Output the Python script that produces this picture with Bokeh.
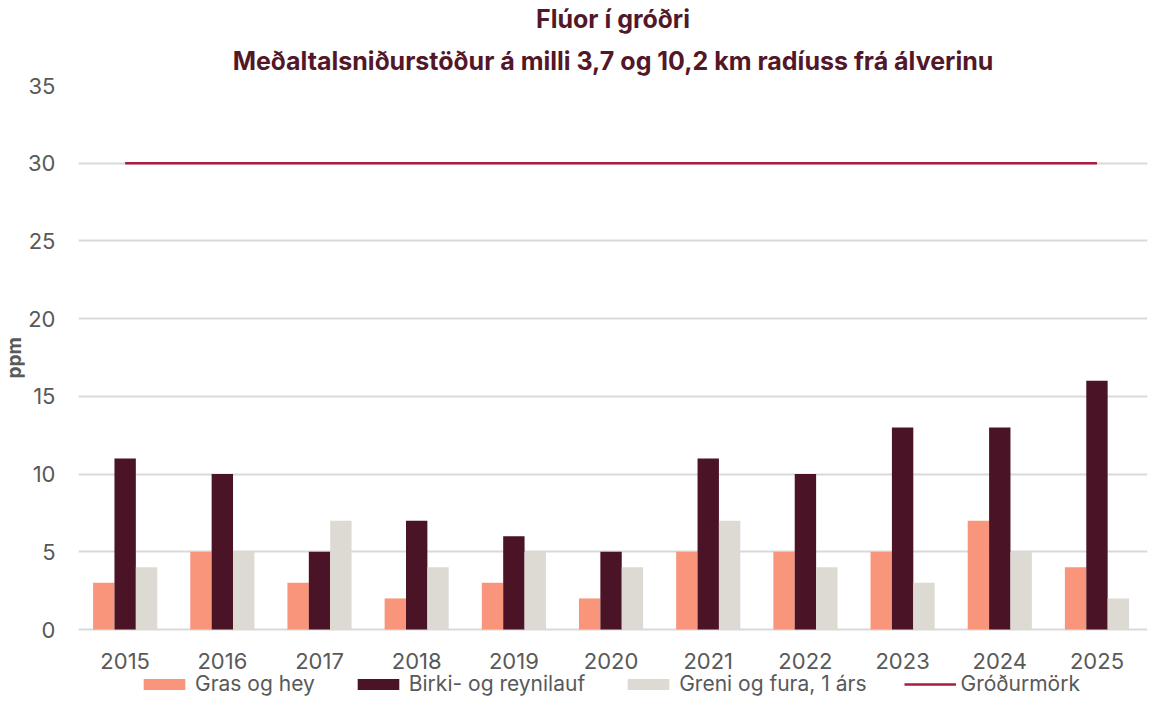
from bokeh.plotting import figure
from bokeh.models import (ColumnDataSource, Title, Legend, LegendItem, FixedTicker, Range1d)
from bokeh.core.properties import value
from bokeh.transform import dodge
from bokeh.embed import file_html
from bokeh.resources import INLINE

years = [2015, 2016, 2017, 2018, 2019, 2020, 2021, 2022, 2023, 2024, 2025]
year_labels = [str(y) for y in years]
gras = [3, 5, 3, 2, 3, 2, 5, 5, 5, 7, 4]
birki = [11, 10, 5, 7, 6, 5, 11, 10, 13, 13, 16]
greni = [4, 5, 7, 4, 5, 4, 7, 4, 3, 5, 2]
limit = [30] * len(years)
y_ticks = [0, 5, 10, 15, 20, 25, 30, 35]

series_names = ["Gras og hey", "Birki- og reynilauf", "Greni og fura, 1 árs", "Gróðurmörk"]
title1 = "Flúor í gróðri"
title2 = "Meðaltalsniðurstöður á milli 3,7 og 10,2 km radíuss frá álverinu"
y_title = "ppm"

src = ColumnDataSource(dict(year=years, label=year_labels, base=[0] * len(years),
                            gras=gras, birki=birki, greni=greni, limit=limit))

FONT = "Inter"
TXT = "#595959"
TITLE_C = "#521729"

# frame extends below 0 to hold the year labels and the legend
px_per_unit = 544 / 35.0
y_bottom = -67 / px_per_unit

p = figure(frame_width=1069, frame_height=611,
           output_backend="svg", toolbar_location=None,
           x_range=Range1d(2014.52, 2025.52), y_range=Range1d(y_bottom, 35),
           x_axis_location=None,
           min_border_left=72, min_border_right=1, min_border_top=0, min_border_bottom=0,
           outline_line_color=None)

p.title = None
t2 = Title(text=title2, align="center", text_font=FONT, text_font_size="25px",
           text_color=TITLE_C, text_font_style="bold", standoff=19)
t1 = Title(text=title1, align="center", text_font=FONT, text_font_size="25px",
           text_color=TITLE_C, text_font_style="bold", standoff=2)
p.add_layout(t2, "above")
p.add_layout(t1, "above")

yt = Title(text=y_title, align="left", offset=318, text_font=FONT, text_font_size="19px",
           text_color=TXT, text_font_style="bold", standoff=0)
p.add_layout(yt, "left")

bw = 0.22
r1 = p.vbar(x=dodge("year", -bw, range=p.x_range), top="gras", width=bw, source=src,
            fill_color="#F9957A", line_color=None)
r2 = p.vbar(x=dodge("year", 0, range=p.x_range), top="birki", width=bw, source=src,
            fill_color="#4A1426", line_color=None)
r3 = p.vbar(x=dodge("year", bw, range=p.x_range), top="greni", width=bw, source=src,
            fill_color="#DDDAD3", line_color=None)
r4 = p.line(x="year", y="limit", source=src, line_color="#A81C3E", line_width=2.5)

# category (year) labels under the zero line
p.text(x="year", y="base", text="label", source=src, y_offset=31,
       text_align="center", text_baseline="middle", text_font_size="22px",
       text_font=value(FONT), text_color=TXT)

# y axis
p.yaxis.ticker = FixedTicker(ticks=y_ticks)
ax = p.yaxis[0]
ax.axis_line_color = None
ax.major_tick_line_color = None
ax.minor_tick_line_color = None
ax.major_label_text_font = FONT
ax.major_label_text_font_size = "22px"
ax.major_label_text_color = TXT
ax.major_label_standoff = 17

p.xgrid.grid_line_color = None
p.ygrid.grid_line_color = "#D9D9D9"
p.ygrid.grid_line_width = 2

legend = Legend(items=[LegendItem(label=series_names[0], renderers=[r1]),
                       LegendItem(label=series_names[1], renderers=[r2]),
                       LegendItem(label=series_names[2], renderers=[r3]),
                       LegendItem(label=series_names[3], renderers=[r4])],
                orientation="horizontal", location=(60, 0),
                glyph_width=52, glyph_height=14, label_standoff=5, spacing=37,
                label_text_font=FONT, label_text_font_size="21px", label_text_color=TXT,
                border_line_color=None, background_fill_alpha=0, padding=0, margin=0,
                label_height=14)
p.add_layout(legend, "center")

open("out.html", "w").write(file_html(p, INLINE))
